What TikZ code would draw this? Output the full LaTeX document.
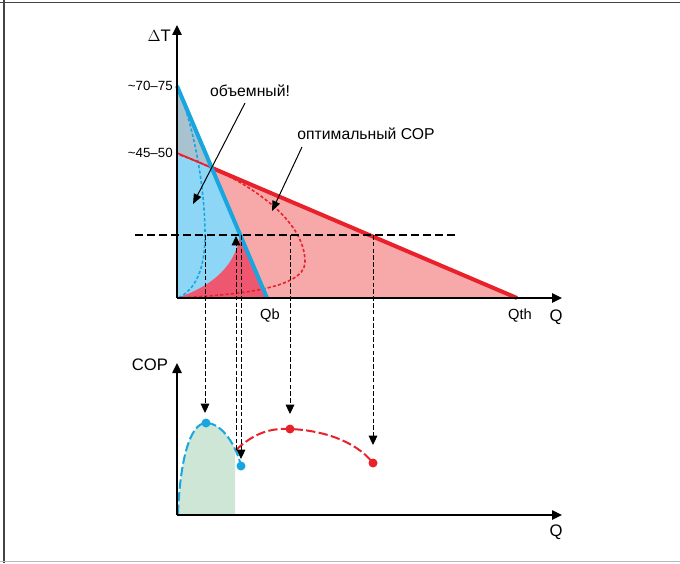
\documentclass[tikz,border=0pt]{standalone}
\usepackage{fontspec}
\setmainfont{Liberation Sans}
\usetikzlibrary{arrows.meta}
\definecolor{bluefill}{HTML}{8ED6F6}
\definecolor{grayfill}{HTML}{A8C2D0}
\definecolor{pinkfill}{HTML}{F7A9AA}
\definecolor{darkpink}{HTML}{EF5670}
\definecolor{redline}{HTML}{E8212B}
\definecolor{blueline}{HTML}{17A6E0}
\definecolor{greenfill}{HTML}{CDE6D5}
\definecolor{frameA}{HTML}{444444}
\definecolor{frameB}{HTML}{BBBBBB}
\begin{document}
\begin{tikzpicture}[x=0.75pt,y=-0.75pt,
  tri/.style={-{Triangle[width=6.5pt,length=7pt]}},
  axis/.style={black,line width=1.1pt,-{Triangle[width=7pt,length=7.5pt]}},
  vdash/.style={black,line width=0.75pt,dash pattern=on 3.5pt off 1.6pt,tri},
  hdash/.style={black,line width=1.2pt,dash pattern=on 6pt off 3pt},
  lbl/.style={inner sep=0pt,font=\fontsize{10}{12}\selectfont},
  qlbl/.style={inner sep=0pt,font=\fontsize{11}{13}\selectfont},
  txt/.style={inner sep=0pt,font=\fontsize{11.8}{14}\selectfont},
  biglbl/.style={inner sep=0pt,font=\fontsize{12.5}{14}\selectfont},
  callout/.style={black,line width=0.75pt,-{Triangle[width=6pt,length=7.5pt]}},
  dot/.style={radius=4.5}]
\useasboundingbox (0,0) rectangle (680,563);
% frame
\draw[frameA,line width=1.2pt] (0,2.5) -- (680,2.5);
\draw[frameA,line width=1.2pt] (4,0) -- (4,563);
\draw[frameB,line width=1pt] (0,561.5) -- (680,561.5);

% key coordinates (upper plot)
\coordinate (O) at (177,298);
\coordinate (Ytop) at (177,25);
\coordinate (Xend) at (562,298);
\coordinate (B1) at (177,86);
\coordinate (B2) at (267,298);
\coordinate (R1) at (177,153);
\coordinate (R2) at (517,298);
\coordinate (X) at (intersection of B1--B2 and R1--R2);
\coordinate (P) at (240.3,235);

% fills
\fill[pinkfill] (R1) -- (R2) -- (O) -- cycle;
\fill[bluefill] (B1) -- (B2) -- (O) -- cycle;
\fill[grayfill] (B1) -- (X) -- (R1) -- cycle;
\fill[darkpink] (O) .. controls (215,285) and (235,265) .. (P) -- (B2) -- cycle;

% dotted curves
\draw[blueline,line width=1.2pt,dash pattern=on 2.4pt off 1.6pt]
  (178,88) .. controls (195,130) and (205,190) .. (205,235)
  .. controls (205,270) and (195,290) .. (178,298);
\draw[redline,line width=1.2pt,dash pattern=on 2.4pt off 1.6pt]
  (180,155) .. controls (250,180) and (305,220) .. (305,262)
  .. controls (305,290) and (230,295) .. (178,298);

% main lines
\draw[redline,line width=1.3pt] (R1) -- (X);
\draw[redline,line width=3pt] (X) -- (R2);
\draw[blueline,line width=3pt] (B1) -- (B2);

% horizontal dashed
\coordinate (H1) at (135,235);
\coordinate (H2) at (457,235);
\draw[hdash] (H1) -- (H2);

% axes upper
\draw[axis] (O) -- (Ytop);
\draw[axis] (O) -- (Xend);

% labels upper
\node[biglbl,anchor=east] (dT) at (171,36) {$\Delta$T};
\node[lbl,anchor=east] (t70) at (173,86) {\textasciitilde70–75};
\node[lbl,anchor=east] (t45) at (173,153) {\textasciitilde45–50};
\node[qlbl] (Qb) at (270,316) {Qb};
\node[qlbl] (Qth) at (520,316) {Qth};
\node[biglbl] (Q1) at (556,317) {Q};
\node[txt] (vol) at (250,91) {объемный!};
\node[txt] (opt) at (366,134) {оптимальный СОР};

% callout arrows
\coordinate (va) at (245,103);
\coordinate (vb) at (193,204);
\draw[callout] (va) -- (vb);
\coordinate (oa) at (302,147);
\coordinate (ob) at (272,211);
\draw[callout] (oa) -- (ob);

% lower plot
\coordinate (O2) at (177,515);
\coordinate (Y2) at (177,363);
\coordinate (X2) at (562,515);

\begin{scope}
\clip (177,400) rectangle (235,515);
\fill[greenfill] (178,515) -- (178,514) .. controls (180,460) and (190,423) .. (206,423)
  .. controls (222,423) and (236,445) .. (241,466) -- (241,515) -- cycle;
\end{scope}

\draw[blueline,line width=1.5pt,dash pattern=on 7pt off 2.5pt]
  (178,514) .. controls (180,460) and (190,423) .. (206,423)
  .. controls (222,423) and (236,445) .. (241,466);
\draw[redline,line width=1.5pt,dash pattern=on 7pt off 2.5pt]
  (236,450) .. controls (255,432) and (272,428) .. (290,429)
  .. controls (320,430) and (355,440) .. (373,463);

\draw[axis] (O2) -- (Y2);
\draw[axis] (O2) -- (X2);
\node[biglbl] (COP) at (150,365) {COP};
\node[biglbl] (Q2) at (556,532) {Q};

% dots
\fill[blueline] (206,423) circle[dot];
\fill[blueline] (241,466) circle[dot];
\fill[redline] (290,429) circle[dot];
\fill[redline] (373,463) circle[dot];

% vertical dashed connectors
\coordinate (a1) at (205,235);  \coordinate (a2) at (205,413);
\coordinate (b1) at (236,450);  \coordinate (b2) at (236,236);
\coordinate (c1) at (241,235);  \coordinate (c2) at (241,459);
\coordinate (d1) at (290,235);  \coordinate (d2) at (290,414);
\coordinate (e1) at (373,235);  \coordinate (e2) at (373,445);
\draw[vdash] (a1) -- (a2);
\draw[vdash] (b1) -- (b2);
\draw[vdash] (c1) -- (c2);
\draw[vdash] (d1) -- (d2);
\draw[vdash] (e1) -- (e2);
\end{tikzpicture}
\end{document}
